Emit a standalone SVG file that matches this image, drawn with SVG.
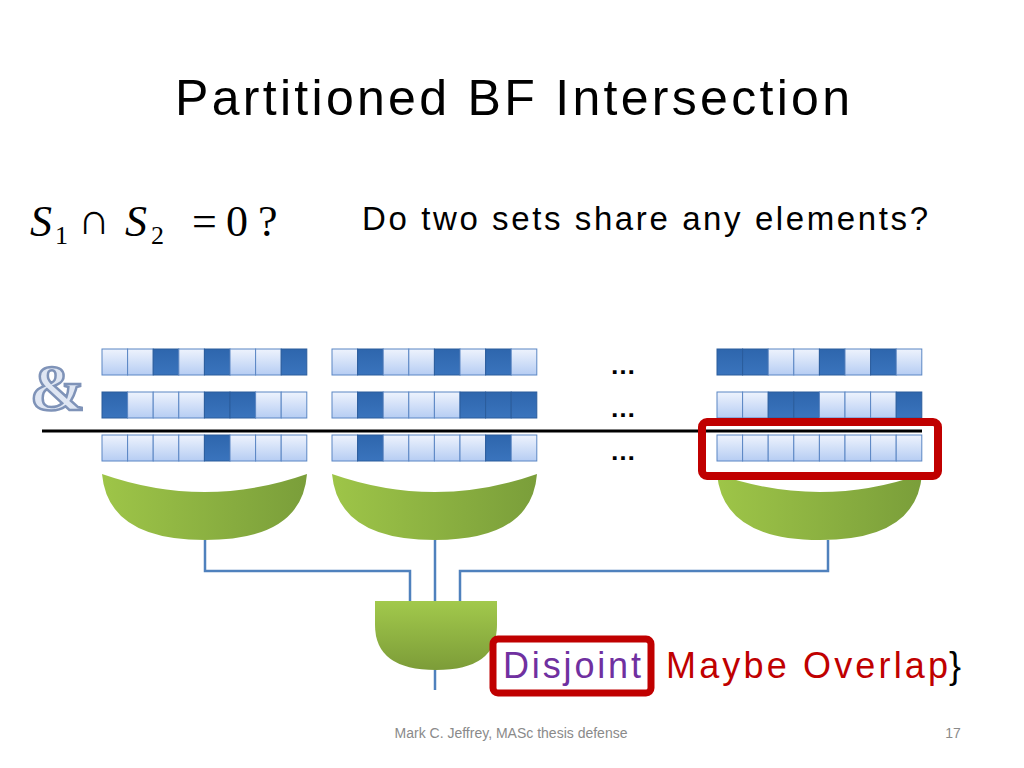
<svg xmlns="http://www.w3.org/2000/svg" width="1024" height="768" viewBox="0 0 1024 768">
<defs>
<linearGradient id="lc" x1="0" y1="0" x2="0" y2="1"><stop offset="0" stop-color="#eef3fd"/><stop offset="1" stop-color="#b6cdf3"/></linearGradient>
<linearGradient id="dc" x1="0" y1="0" x2="0" y2="1"><stop offset="0" stop-color="#2e66ad"/><stop offset="1" stop-color="#3a74bd"/></linearGradient>
<linearGradient id="gr" x1="0" y1="0" x2="1" y2="0"><stop offset="0" stop-color="#9ec548"/><stop offset="1" stop-color="#7a9e3a"/></linearGradient>
<linearGradient id="gv" x1="0" y1="0" x2="0" y2="1"><stop offset="0" stop-color="#a2c94c"/><stop offset="1" stop-color="#7c9c38"/></linearGradient>
<style>
.l{fill:url(#lc);stroke:#5a86c4;stroke-width:1}
.d{fill:url(#dc);stroke:#2a5c9c;stroke-width:1}
.c{fill:none;stroke:#4f81bd;stroke-width:2.5}
.t{font-family:"Liberation Sans",Arial,sans-serif}
</style>
</defs>
<text class="t" x="175" y="115" font-size="50" textLength="675" fill="#000">Partitioned BF Intersection</text>
<g font-family="'Liberation Serif',serif" font-size="44" fill="#000">
<text x="30" y="236" font-style="italic">S</text><text x="55" y="244" font-size="26">1</text>
<text x="78" y="234" font-size="44">∩</text>
<text x="125" y="236" font-style="italic">S</text><text x="151" y="244" font-size="26">2</text>
<text x="192" y="236">=</text><text x="226" y="236">0</text><text x="258" y="236">?</text>
</g>
<text class="t" x="362" y="230" font-size="33" textLength="566">Do two sets share any elements?</text>
<text x="30" y="410" font-family="'Liberation Serif',serif" font-size="66" font-weight="bold" fill="#dfe6f3" stroke="#7f93b8" stroke-width="2.5">&amp;</text>
<line x1="42" y1="431" x2="922" y2="431" stroke="#000" stroke-width="3"/>
<g id="bits">
<g id="g1" transform="translate(102,0)"></g>
</g>
<g id="filters">
<!-- group 1 -->
<g transform="translate(102,349)">
<rect class="l" x="0" width="25.6" height="26"/><rect class="l" x="25.6" width="25.6" height="26"/><rect class="d" x="51.2" width="25.6" height="26"/><rect class="l" x="76.8" width="25.6" height="26"/><rect class="d" x="102.4" width="25.6" height="26"/><rect class="l" x="128" width="25.6" height="26"/><rect class="l" x="153.6" width="25.6" height="26"/><rect class="d" x="179.2" width="25.6" height="26"/>
</g>
<g transform="translate(102,392)">
<rect class="d" x="0" width="25.6" height="26"/><rect class="l" x="25.6" width="25.6" height="26"/><rect class="l" x="51.2" width="25.6" height="26"/><rect class="l" x="76.8" width="25.6" height="26"/><rect class="d" x="102.4" width="25.6" height="26"/><rect class="d" x="128" width="25.6" height="26"/><rect class="l" x="153.6" width="25.6" height="26"/><rect class="l" x="179.2" width="25.6" height="26"/>
</g>
<g transform="translate(102,435)">
<rect class="l" x="0" width="25.6" height="26"/><rect class="l" x="25.6" width="25.6" height="26"/><rect class="l" x="51.2" width="25.6" height="26"/><rect class="l" x="76.8" width="25.6" height="26"/><rect class="d" x="102.4" width="25.6" height="26"/><rect class="l" x="128" width="25.6" height="26"/><rect class="l" x="153.6" width="25.6" height="26"/><rect class="l" x="179.2" width="25.6" height="26"/>
</g>
<!-- group 2 -->
<g transform="translate(332,349)">
<rect class="l" x="0" width="25.6" height="26"/><rect class="d" x="25.6" width="25.6" height="26"/><rect class="l" x="51.2" width="25.6" height="26"/><rect class="l" x="76.8" width="25.6" height="26"/><rect class="d" x="102.4" width="25.6" height="26"/><rect class="l" x="128" width="25.6" height="26"/><rect class="d" x="153.6" width="25.6" height="26"/><rect class="l" x="179.2" width="25.6" height="26"/>
</g>
<g transform="translate(332,392)">
<rect class="l" x="0" width="25.6" height="26"/><rect class="d" x="25.6" width="25.6" height="26"/><rect class="l" x="51.2" width="25.6" height="26"/><rect class="l" x="76.8" width="25.6" height="26"/><rect class="l" x="102.4" width="25.6" height="26"/><rect class="d" x="128" width="25.6" height="26"/><rect class="d" x="153.6" width="25.6" height="26"/><rect class="d" x="179.2" width="25.6" height="26"/>
</g>
<g transform="translate(332,435)">
<rect class="l" x="0" width="25.6" height="26"/><rect class="d" x="25.6" width="25.6" height="26"/><rect class="l" x="51.2" width="25.6" height="26"/><rect class="l" x="76.8" width="25.6" height="26"/><rect class="l" x="102.4" width="25.6" height="26"/><rect class="l" x="128" width="25.6" height="26"/><rect class="d" x="153.6" width="25.6" height="26"/><rect class="l" x="179.2" width="25.6" height="26"/>
</g>
<!-- group 3 -->
<g transform="translate(717,349)">
<rect class="d" x="0" width="25.6" height="26"/><rect class="d" x="25.6" width="25.6" height="26"/><rect class="l" x="51.2" width="25.6" height="26"/><rect class="l" x="76.8" width="25.6" height="26"/><rect class="d" x="102.4" width="25.6" height="26"/><rect class="l" x="128" width="25.6" height="26"/><rect class="d" x="153.6" width="25.6" height="26"/><rect class="l" x="179.2" width="25.6" height="26"/>
</g>
<g transform="translate(717,392)">
<rect class="l" x="0" width="25.6" height="26"/><rect class="l" x="25.6" width="25.6" height="26"/><rect class="d" x="51.2" width="25.6" height="26"/><rect class="d" x="76.8" width="25.6" height="26"/><rect class="l" x="102.4" width="25.6" height="26"/><rect class="l" x="128" width="25.6" height="26"/><rect class="l" x="153.6" width="25.6" height="26"/><rect class="d" x="179.2" width="25.6" height="26"/>
</g>
<g transform="translate(717,435)">
<rect class="l" x="0" width="25.6" height="26"/><rect class="l" x="25.6" width="25.6" height="26"/><rect class="l" x="51.2" width="25.6" height="26"/><rect class="l" x="76.8" width="25.6" height="26"/><rect class="l" x="102.4" width="25.6" height="26"/><rect class="l" x="128" width="25.6" height="26"/><rect class="l" x="153.6" width="25.6" height="26"/><rect class="l" x="179.2" width="25.6" height="26"/>
</g>
</g>
<g class="t" font-size="26" font-weight="bold" fill="#000" text-anchor="middle">
<text x="623" y="374">…</text><text x="623" y="417">…</text><text x="623" y="460">…</text>
</g>
<g id="or1"><path d="M102,474 Q205,510 307,474 Q302,540 205,540 Q108,540 102,474Z" fill="url(#gr)"/></g>
<g id="or2"><path d="M332,474 Q435,510 537,474 Q532,540 435,540 Q338,540 332,474Z" fill="url(#gr)"/></g>
<g id="or3"><path d="M717,474 Q820,510 922,474 Q917,540 820,540 Q723,540 717,474Z" fill="url(#gr)"/></g>
<rect x="702" y="422" width="236" height="54" rx="5" fill="none" stroke="#c00000" stroke-width="8"/>
<g id="connectors">
<path class="c" d="M205,540 V571 H410 V601"/>
<path class="c" d="M435,540 V601"/>
<path class="c" d="M828,540 V571 H460 V601"/>
<path class="c" d="M435,668 V690"/>
</g>
<g id="and"><path d="M375,601 H497 V625 Q497,670 436,670 Q375,670 375,625Z" fill="url(#gv)"/></g>
<rect x="493" y="639" width="158" height="54" rx="5" fill="#fff" stroke="#c00000" stroke-width="7"/>
<text class="t" x="503" y="678" font-size="36" fill="#7030a0" textLength="138">Disjoint</text>
<text class="t" x="666" y="678" font-size="36" fill="#c00000" textLength="282">Maybe Overlap</text>
<text class="t" x="949" y="678" font-size="36" fill="#000">}</text>
<text class="t" x="511" y="738" font-size="14" fill="#8a8a8a" text-anchor="middle">Mark C. Jeffrey, MASc thesis defense</text>
<text class="t" x="953" y="738" font-size="14" fill="#8a8a8a" text-anchor="middle">17</text>
</svg>
